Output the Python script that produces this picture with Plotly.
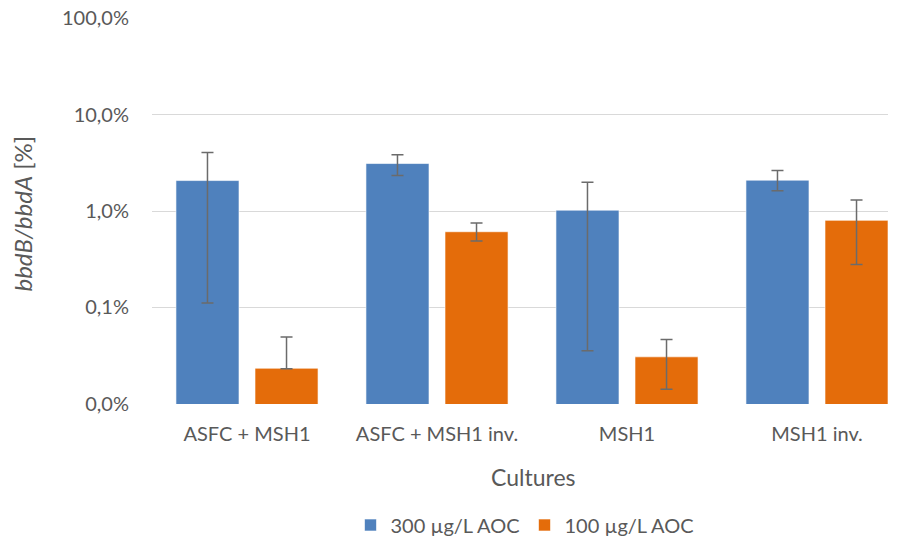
import plotly.graph_objects as go

categories = ["ASFC + MSH1", "ASFC + MSH1 inv.", "MSH1", "MSH1 inv."]
series_names = ["300 µg/L AOC", "100 µg/L AOC"]
vals_300 = [2.07, 3.11, 1.02, 2.09]
err_hi_300 = [4.05, 3.83, 1.99, 2.63]
err_lo_300 = [0.111, 2.33, 0.0354, 1.62]
vals_100 = [0.0233, 0.609, 0.0306, 0.80]
err_hi_100 = [0.0491, 0.75, 0.0464, 1.30]
err_lo_100 = [0.0230, 0.487, 0.0141, 0.279]
tick_vals = [0.01, 0.1, 1, 10, 100]
tick_text = ["0,0%", "0,1%", "1,0%", "10,0%", "100,0%"]

colors = ["#4f81bd", "#e46c0a"]
FONT = "Lato, 'Open Sans', sans-serif"
GRAY = "#595959"

L, R, T, B = 152, 14, 18, 135
PW = 902 - L - R

fig = go.Figure()
for name, v, hi, lo, c in [
    (series_names[0], vals_300, err_hi_300, err_lo_300, colors[0]),
    (series_names[1], vals_100, err_hi_100, err_lo_100, colors[1]),
]:
    fig.add_trace(go.Bar(
        x=categories, y=v, name=name,
        marker=dict(color=c, line=dict(color="rgba(255,255,255,0.6)", width=1)),
        error_y=dict(type="data", symmetric=False,
                     array=[h - a for h, a in zip(hi, v)],
                     arrayminus=[a - l for l, a in zip(lo, v)],
                     color="#6b6b6b", thickness=1.5, width=6),
    ))

fig.update_layout(
    width=902, height=539,
    margin=dict(l=L, r=R, t=T, b=B, autoexpand=False),
    paper_bgcolor="white", plot_bgcolor="white",
    barmode="group", bargap=0.168, bargroupgap=0.2025,
    font=dict(family=FONT, color=GRAY, size=20),
    showlegend=True,
    legend=dict(orientation="h", x=(525 - L) / PW, xanchor="center", xref="paper",
                y=(539 - 525) / 539, yanchor="middle", yref="container",
                font=dict(size=20, color=GRAY), traceorder="normal", itemwidth=30),
    xaxis=dict(showgrid=False, showline=False, zeroline=False,
               range=[-0.5, 3.3737],
               tickfont=dict(size=20, color=GRAY), ticks="", ticklabelstandoff=16),
    yaxis=dict(type="log", range=[-2.004, 2.004],
               tickvals=tick_vals, ticktext=tick_text,
               showgrid=True, gridcolor="#d9d9d9", gridwidth=1,
               showline=False, zeroline=False, ticks="",
               tickfont=dict(size=20, color=GRAY), ticklabelstandoff=22),
    annotations=[
        dict(text="Cultures", x=(533 - L) / PW, xref="paper", y=(403 - 476) / 385, yref="paper",
             xanchor="center", yanchor="middle", showarrow=False,
             font=dict(size=23, color=GRAY)),
        dict(text="<i>bbdB/bbdA</i> [%]", x=(23 - L) / PW, xref="paper", y=(403 - 213) / 385,
             yref="paper", textangle=-90, xanchor="center", yanchor="middle", showarrow=False,
             font=dict(size=24, color=GRAY)),
    ],
)

fig.write_html("out.html")
